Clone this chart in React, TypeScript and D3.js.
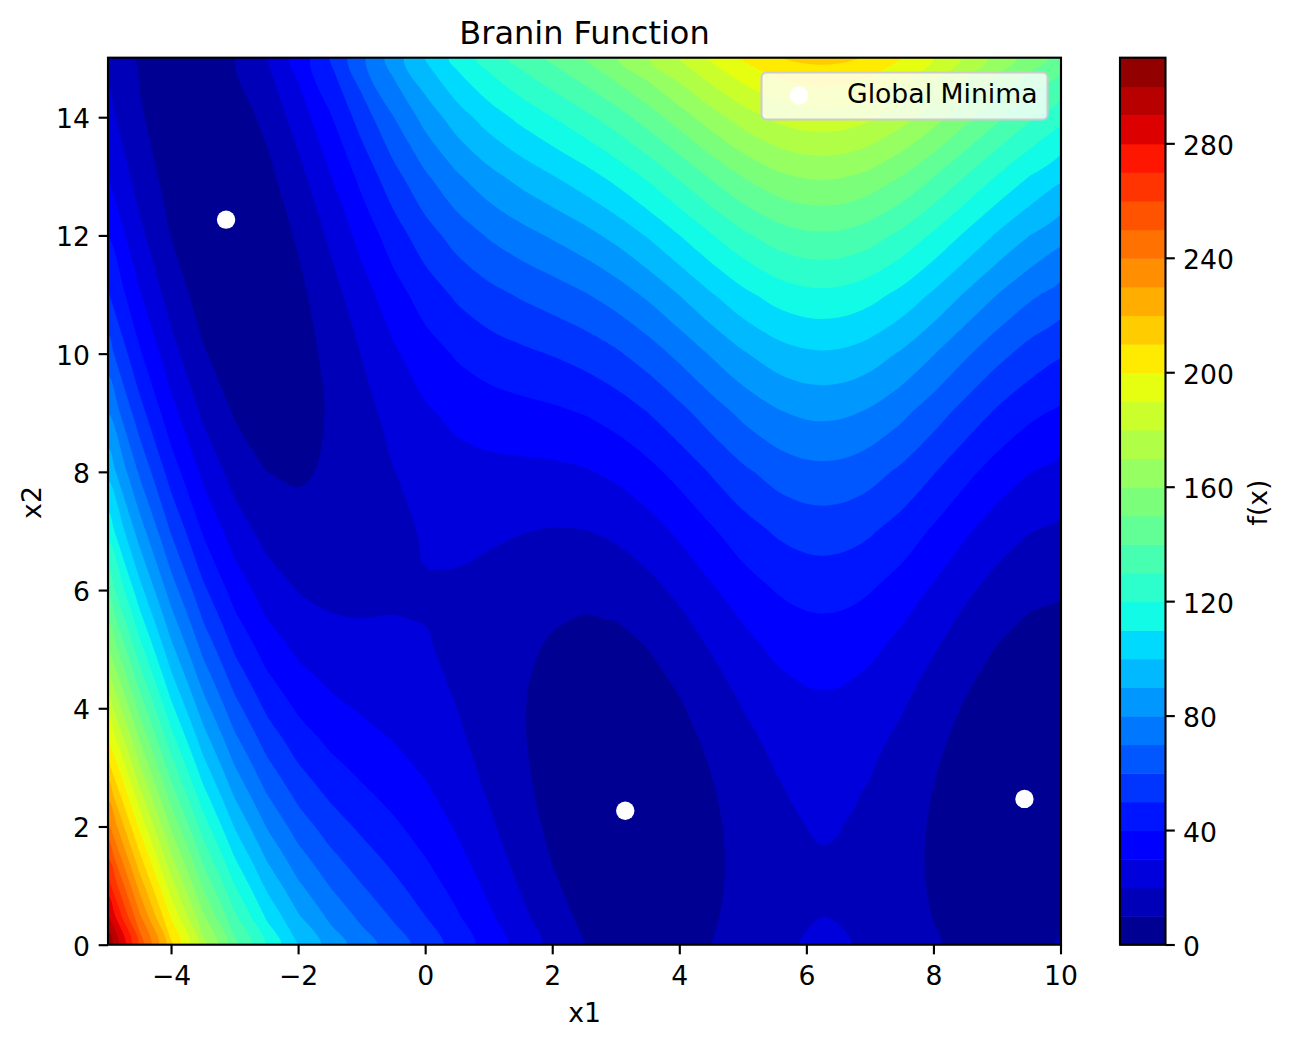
import React from "react";
import * as d3 from "d3";

const x1Values = [-5,-4.5,-4,-3.5,-3,-2.5,-2,-1.5,-1,-0.5,0,0.5,1,1.5,2,2.5,3,3.5,4,4.5,5,5.5,5.75,6,6.25,6.5,6.75,7,7.5,8,8.5,9,9.5,10];
const x2Whole = [0,1,2,3,4,5,6,7,8,9,10,11,12,13,14,15];
const x2Half = [0.5,1.5,2.5,3.5,4.5,5.5];

// f(x) read per x1 column at x2 = 0 ... 15
const fByColumn = [
[308.13,274.76,243.38,214.01,186.63,161.26,137.88,116.51,97.13,79.76,64.38,51.01,39.63,30.26,22.88,17.51],
[256.92,226.37,197.81,171.26,146.70,124.15,103.59,85.04,68.48,53.92,41.37,30.81,22.26,15.70,11.15,8.59],
[212.04,184.18,158.31,134.44,112.58,92.71,74.85,58.98,45.11,33.25,23.38,15.52,9.65,5.78,3.92,4.05],
[174.01,148.70,125.40,104.09,84.78,67.48,52.17,38.87,27.56,18.25,10.95,5.64,2.34,1.03,1.73,4.42],
[142.99,120.12,99.24,80.37,63.49,48.62,35.74,24.87,15.99,9.12,4.24,1.37,0.50,1.62,4.75,9.87],
[118.65,98.08,79.51,62.93,48.36,35.79,25.22,16.64,10.07,5.50,2.93,2.35,3.78,7.21,12.64,20.06],
[100.09,81.69,65.29,50.89,38.49,28.09,19.69,13.29,8.89,6.49,6.09,7.69,11.29,16.89,24.49,34.09],
[85.99,69.63,55.28,42.92,32.57,24.21,17.85,13.50,11.14,10.79,12.43,16.07,21.72,29.36,39.01,50.65],
[74.80,60.36,47.92,37.47,29.03,22.59,18.15,15.71,15.27,16.83,20.38,25.94,33.50,43.06,54.62,68.18],
[65.05,52.39,41.73,33.08,26.42,21.77,19.11,18.46,19.80,23.14,28.49,35.83,45.18,56.52,69.86,85.21],
[55.60,44.60,35.60,28.60,23.60,20.60,19.60,20.60,23.60,28.60,35.60,44.60,55.60,68.60,83.60,100.60],
[45.85,36.37,28.90,23.43,19.96,18.48,19.01,21.54,26.06,32.59,41.12,51.65,64.17,78.70,95.23,113.76],
[35.78,27.70,21.63,17.55,15.48,15.40,17.33,21.25,27.18,35.10,45.03,56.95,70.88,86.80,104.73,124.65],
[25.92,19.11,14.30,11.50,10.69,11.88,15.08,20.27,27.46,36.66,47.85,61.04,76.24,93.43,112.62,133.82],
[17.12,11.45,7.78,6.11,6.45,8.78,13.11,19.45,27.78,38.11,50.45,64.78,81.11,99.45,119.78,142.11],
[10.31,5.65,3.00,2.34,3.68,7.03,12.37,19.71,29.06,40.40,53.74,69.09,86.43,105.77,127.12,150.46],
[6.20,2.42,0.65,0.87,3.09,7.32,13.54,21.77,31.99,44.21,58.44,74.66,92.89,113.11,135.33,159.56],
[5.06,2.03,1.01,1.98,4.96,9.94,16.91,25.89,36.87,49.84,64.82,81.80,100.77,121.75,144.73,169.70],
[6.62,4.21,3.81,5.41,9.01,14.61,22.20,31.80,43.40,57.00,72.60,90.20,109.79,131.39,154.99,180.59],
[10.09,8.18,8.27,10.37,14.46,20.55,28.64,38.74,50.83,64.92,81.01,99.10,119.20,141.29,165.38,191.47],
[14.34,12.80,13.25,15.71,20.17,26.62,35.08,45.54,57.99,72.45,88.90,107.36,127.82,150.27,174.73,201.19],
[18.14,16.83,17.52,20.21,24.90,31.59,40.28,50.97,63.66,78.35,95.05,113.74,134.43,157.12,181.81,208.50],
[19.52,18.28,19.04,21.80,26.56,33.32,42.08,52.85,65.61,80.37,97.13,115.89,136.65,159.41,184.17,210.93],
[20.43,19.23,20.03,22.82,27.62,34.42,43.21,54.01,66.81,81.60,98.40,117.20,137.99,160.79,185.59,212.38],
[20.81,19.61,20.41,23.21,28.01,34.81,43.62,54.42,67.22,82.02,98.82,117.63,138.43,161.23,186.03,212.83],
[20.62,19.39,20.17,22.94,27.72,34.49,43.26,54.04,66.81,81.59,98.36,117.13,137.91,160.68,185.46,212.23],
[19.88,18.60,19.31,22.02,26.74,33.45,42.17,52.88,65.59,80.31,97.02,115.74,136.45,159.16,183.88,210.59],
[18.65,17.27,17.89,20.51,25.13,31.75,40.37,50.99,63.62,78.24,94.86,113.48,134.10,156.72,181.34,207.96],
[15.10,13.44,13.78,16.12,20.46,26.80,35.14,45.48,57.82,72.16,88.50,106.84,127.18,149.52,173.86,200.20],
[10.96,8.89,8.82,10.75,14.68,20.61,28.54,38.47,50.40,64.33,80.26,98.19,118.12,140.05,163.98,189.91],
[7.48,4.87,4.26,5.65,9.04,14.42,21.81,31.20,42.59,55.98,71.37,88.76,108.15,129.53,152.92,178.31],
[5.83,2.55,1.27,1.99,4.71,9.43,16.15,24.87,35.59,48.31,63.03,79.75,98.47,119.19,141.91,166.63],
[6.87,2.79,0.71,0.63,2.56,6.48,12.40,20.32,30.24,42.16,56.08,72.00,89.92,109.85,131.77,155.69],
[10.96,5.96,2.95,1.95,2.94,5.93,10.93,17.92,26.91,37.91,50.90,65.90,82.89,101.88,122.88,145.87],
];

// f(x) per x1 column at x2 = 0.5 ... 5.5, where the bands are widest
const fHalfByColumn = [
[291.20,258.82,228.45,200.07,173.70,149.32],
[241.40,211.84,184.29,158.73,135.18,113.62],
[197.86,170.99,146.13,123.26,102.40,83.53],
[161.11,136.80,114.50,94.19,75.88,59.58],
[131.31,109.43,89.56,71.68,55.81,41.93],
[108.12,88.55,70.97,55.40,41.83,30.26],
[90.64,73.24,57.84,44.44,33.04,23.64],
[77.56,62.21,48.85,37.50,28.14,20.78],
[67.33,53.89,42.45,33.00,25.56,20.12],
[58.47,46.81,37.16,29.50,23.85,20.19],
[49.85,39.85,31.85,25.85,21.85,19.85],
[40.86,32.39,25.92,21.45,18.97,18.50],
[31.49,24.42,19.34,16.27,15.19,16.12],
[22.27,16.46,12.65,10.85,11.04,13.23],
[14.04,9.37,6.70,6.03,7.37,10.70],
[7.73,4.08,2.42,2.76,5.11,9.45],
[4.06,1.29,0.51,1.73,4.96,10.18],
[3.30,1.27,1.25,3.22,7.20,13.18],
[5.17,3.76,4.36,6.96,11.56,18.16],
[8.89,7.98,9.07,12.17,17.26,24.35],
[13.32,12.78,14.23,17.69,23.15,30.60],
[17.24,16.93,18.62,22.31,28.00,35.69],
[18.65,18.41,20.17,23.93,29.69,37.45],
[19.58,19.38,21.18,24.97,30.77,38.57],
[19.96,19.76,21.56,25.36,31.16,38.97],
[19.76,19.53,21.31,25.08,30.86,38.63],
[18.99,18.71,20.42,24.13,29.85,37.56],
[17.71,17.33,18.95,22.57,28.19,35.81],
[14.02,13.36,14.70,18.04,23.38,30.72],
[9.68,8.61,9.54,12.47,17.40,24.33],
[5.93,4.32,4.71,7.10,11.48,17.87],
[3.94,1.66,1.38,3.10,6.82,12.54],
[4.58,1.50,0.42,1.35,4.27,9.19],
[8.21,4.21,2.20,2.20,4.19,8.18],
];

const levels = d3.range(0, 320, 10);
const minimaX1 = [-3.1416, 3.1416, 9.4248];
const minimaX2 = [12.275, 2.275, 2.475];
const xTicks = [-4,-2,0,2,4,6,8,10];
const yTicks = [0,2,4,6,8,10,12,14];
const cbTicks = [0,40,80,120,160,200,240,280];

const W = 1290, H = 1046;
const L = 108, R = 1061, T = 58, B = 945;
const CL = 1120, CR = 1165.5;
const FS = 26.67;
const FONT = "'DejaVu Sans', sans-serif";
const INK = 2.13;
const TICK = 9.33;

const red = d3.scaleLinear<number>().domain([0,0.35,0.66,0.89,1]).range([0,0,1,1,0.5]);
const green = d3.scaleLinear<number>().domain([0,0.125,0.375,0.64,0.91,1]).range([0,0,1,1,0,0]);
const blue = d3.scaleLinear<number>().domain([0,0.11,0.34,0.65,1]).range([0.5,1,1,0,0]);
const jet = (t: number) => d3.rgb(red(t)*255, green(t)*255, blue(t)*255).formatHex();

const x = d3.scaleLinear().domain([-5,10]).range([L,R]);
const y = d3.scaleLinear().domain([0,15]).range([B+0.2,T+0.6]);
const cb = d3.scaleLinear().domain([0,310]).range([B,T]);
const norm = d3.scaleLinear().domain([0,310]).range([0,1]);
const bandColor = (lo: number) => jet(norm(lo + 5));

const x2Rows = [...x2Whole.filter(v => v <= 6), ...x2Half, ...x2Whole.filter(v => v > 6)].sort((a, b) => a - b);
const nx = x1Values.length, ny = x2Rows.length;
const flat: number[] = [];
x2Rows.forEach(row => x1Values.forEach((_, i) => {
  flat.push(Number.isInteger(row) ? fByColumn[i][row] : fHalfByColumn[i][row - 0.5]);
}));

// d3.contours places grid node i at i + 0.5; the grid is not evenly spaced, so map piecewise
const gx = d3.scaleLinear().domain(x1Values.map((_, i) => i + 0.5)).range(x1Values.map(v => x(v)));
const gy = d3.scaleLinear().domain(x2Rows.map((_, i) => i + 0.5)).range(x2Rows.map(v => y(v)));
const ringLine = d3.line<number[]>()
  .x(p => gx(p[0])).y(p => gy(p[1]))
  .curve(d3.curveCatmullRomClosed.alpha(0.5));
const bands = d3.contours().size([nx,ny]).smooth(true).thresholds(levels)(flat);
const bandPath = (c: any) => c.coordinates
  .flatMap((poly: number[][][]) => poly.map(ring => ringLine(ring.slice(0,-1)) || ""))
  .join("");

const txt = { fontFamily: FONT, fontSize: FS, fill: "#000" } as const;

export default function App() {
  return (
    <svg width={W} height={H} viewBox={`0 0 ${W} ${H}`} style={{position:"absolute",left:0,top:0,background:"#fff"}}>
      <defs>
        <clipPath id="plot"><rect x={L} y={T} width={R-L} height={B-T}/></clipPath>
      </defs>
      <g clipPath="url(#plot)">
        <rect x={L} y={T} width={R-L} height={B-T} fill={bandColor(0)}/>
        {bands.map((c, i) => (
          <path key={i} d={bandPath(c)} fill={bandColor(c.value)} stroke="none"/>
        ))}
        {minimaX1.map((v, i) => (
          <circle key={i} cx={x(v)} cy={y(minimaX2[i])} r={9.2} fill="#fff"/>
        ))}
      </g>

      {/* legend */}
      <rect x={761.5} y={72.5} width={286} height={47} rx={5} fill="#fff" fillOpacity={0.8} stroke="#ccc" strokeWidth={2.13}/>
      <circle cx={799} cy={95.5} r={9.2} fill="#fff"/>
      <text x={847} y={103} {...txt}>Global Minima</text>

      {/* main frame */}
      <rect x={L} y={T-0.3} width={R-L} height={B-T} fill="none" stroke="#000" strokeWidth={INK}/>
      {xTicks.map(t => (
        <g key={t}>
          <line x1={x(t)} x2={x(t)} y1={B} y2={B+TICK} stroke="#000" strokeWidth={INK}/>
          <text x={x(t)} y={B+40} textAnchor="middle" {...txt}>{t < 0 ? `\u2212${-t}` : t}</text>
        </g>
      ))}
      {yTicks.map(t => (
        <g key={t}>
          <line x1={L-TICK} x2={L} y1={y(t)} y2={y(t)} stroke="#000" strokeWidth={INK}/>
          <text x={L-18} y={y(t)+10.5} textAnchor="end" {...txt}>{t}</text>
        </g>
      ))}
      <text x={(L+R)/2} y={1022} textAnchor="middle" {...txt}>x1</text>
      <text transform={`translate(41,${(T+B)/2+1}) rotate(-90)`} textAnchor="middle" {...txt}>x2</text>
      <text x={(L+R)/2} y={44} textAnchor="middle" {...txt} fontSize={32}>Branin Function</text>

      {/* colorbar */}
      {levels.slice(0,-1).map(l => (
        <rect key={l} x={CL} width={CR-CL} y={cb(l+10)} height={cb(l)-cb(l+10)+0.5} fill={bandColor(l)}/>
      ))}
      <rect x={CL} y={T-0.3} width={CR-CL} height={B-T} fill="none" stroke="#000" strokeWidth={INK}/>
      {cbTicks.map(t => (
        <g key={t}>
          <line x1={CR} x2={CR+TICK} y1={cb(t)} y2={cb(t)} stroke="#000" strokeWidth={INK}/>
          <text x={CR+17.5} y={cb(t)+11} {...txt}>{t}</text>
        </g>
      ))}
      <text transform={`translate(1267,${(T+B)/2+1}) rotate(-90)`} textAnchor="middle" {...txt}>f(x)</text>
    </svg>
  );
}
